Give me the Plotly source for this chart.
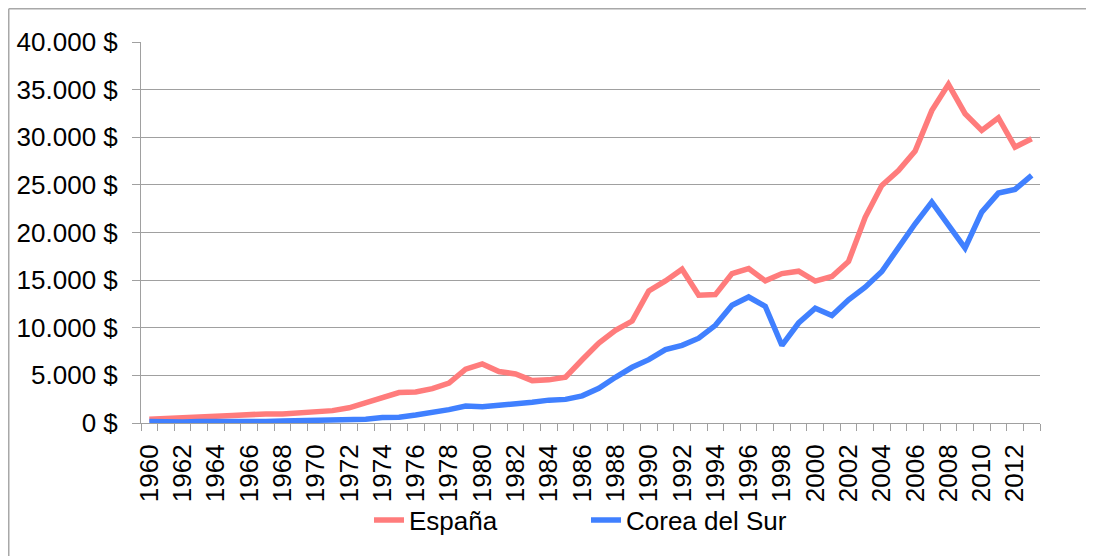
import plotly.graph_objects as go

years = list(range(1960, 2014))

espana = [400, 450, 550, 650, 700, 800, 900, 950, 950, 1050,
          1150, 1300, 1600, 2150, 2700, 3200, 3250, 3600, 4200, 5650,
          6200, 5400, 5150, 4450, 4530, 4810, 6640, 8390, 9720, 10700,
          13870, 14920, 16150, 13410, 13480, 15690, 16220, 14920, 15690, 15940,
          14900, 15380, 16960, 21600, 24950, 26500, 28550, 32800, 35550, 32470,
          30720, 32050, 28970, 29840]

corea = [160, 100, 110, 150, 125, 110, 135, 160, 200, 245,
         280, 300, 325, 405, 565, 615, 835, 1055, 1400, 1780,
         1700, 1870, 1975, 2180, 2400, 2480, 2850, 3650, 4800, 5850,
         6650, 7700, 8150, 8900, 10250, 12360, 13230, 12250, 8140, 10500,
         12050, 11290, 12935, 14265, 15910, 18535, 20915, 23190, 20740, 18360,
         22140, 24135, 24520, 25990]

x_tick_years = years[::2]
x_tick_labels = [str(y) for y in x_tick_years]
y_tick_vals = [0, 5000, 10000, 15000, 20000, 25000, 30000, 35000, 40000]
y_tick_labels = ["0 $", "5.000 $", "10.000 $", "15.000 $", "20.000 $",
                 "25.000 $", "30.000 $", "35.000 $", "40.000 $"]

# the page body has an 8px margin, so the figure is 8px smaller each way
W, H = 1086, 548
ML, MR, MT, MB = 133, 54, 34, 133
PW = W - ML - MR
PH = H - MT - MB

def px_x(p):
    return (p - ML) / PW

def px_y(p):
    return (H - MB - p) / PH

GRID = "#A0A0A0"
FONT = "Liberation Sans, Arial, sans-serif"
FS = 26

fig = go.Figure()
fig.add_trace(go.Scatter(x=years, y=espana, mode="lines", name="España",
                         line=dict(color="#FF7C7C", width=5.5)))
fig.add_trace(go.Scatter(x=years, y=corea, mode="lines", name="Corea del Sur",
                         line=dict(color="#4080FF", width=5.5)))

fig.update_layout(
    width=W, height=H,
    margin=dict(l=ML, r=MR, t=MT, b=MB, autoexpand=False),
    paper_bgcolor="white", plot_bgcolor="white",
    font=dict(family=FONT, size=FS, color="black"),
    showlegend=True,
    legend=dict(orientation="h", x=px_x(361), xanchor="left",
                y=px_y(512), yanchor="middle",
                font=dict(size=FS),
                entrywidth=172, entrywidthmode="pixels",
                bgcolor="rgba(0,0,0,0)"),
    xaxis=dict(
        range=[1959.5, 2013.5], tickmode="array",
        tickvals=x_tick_years, ticktext=x_tick_labels,
        tickangle=-90, ticks="", showgrid=False,
        showline=True, linecolor=GRID, linewidth=1,
        zeroline=False, tickfont=dict(size=FS),
        ticklabelstandoff=10,
        minor=dict(ticks="outside", tick0=1959.5, dtick=1, ticklen=7,
                   tickcolor=GRID, tickwidth=1, showgrid=False),
    ),
    yaxis=dict(
        range=[0, 40000], tickmode="array",
        tickvals=y_tick_vals, ticktext=y_tick_labels,
        ticks="outside", ticklen=8, tickcolor=GRID, tickwidth=1,
        showgrid=True, gridcolor=GRID, gridwidth=1,
        showline=True, linecolor=GRID, linewidth=1,
        zeroline=False, tickfont=dict(size=FS),
        ticklabelstandoff=9,
    ),
)

# outer chart border (top and left edges visible)
fig.add_shape(type="line", xref="paper", yref="paper",
              x0=px_x(0.75), x1=px_x(W + 5), y0=px_y(0.75), y1=px_y(0.75),
              line=dict(color="#A8A8A8", width=1.5))
fig.add_shape(type="line", xref="paper", yref="paper",
              x0=px_x(0.75), x1=px_x(0.75), y0=px_y(0.75), y1=px_y(H + 5),
              line=dict(color="#A8A8A8", width=1.5))

fig.write_html("out.html")
